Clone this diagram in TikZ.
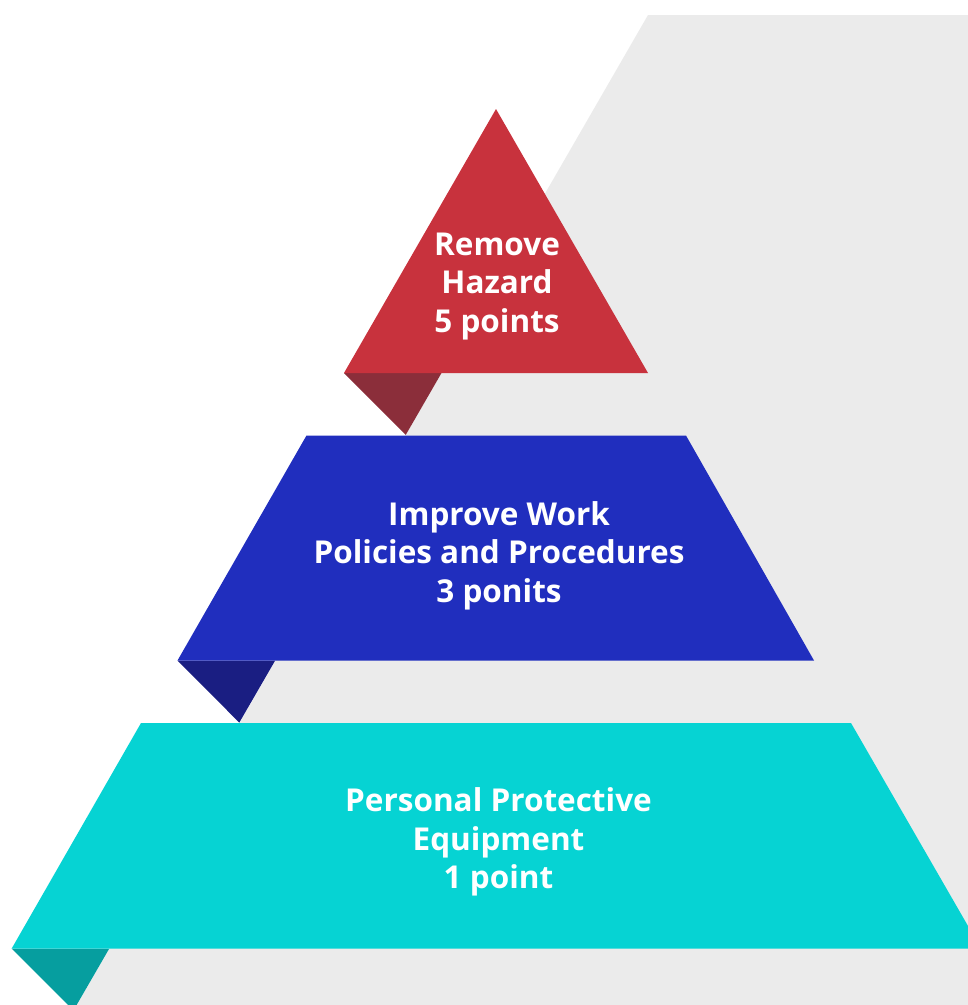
\documentclass[tikz,border=0pt]{standalone}
\usepackage{fontspec}
\setmainfont{Open Sans}
\definecolor{bggray}{HTML}{EBEBEB}
\definecolor{topred}{HTML}{C8323D}
\definecolor{foldred}{HTML}{8B2E3A}
\definecolor{midblue}{HTML}{202EBE}
\definecolor{foldblue}{HTML}{1A1E82}
\definecolor{lowcyan}{HTML}{06D3D3}
\definecolor{foldcyan}{HTML}{069E9F}
\tikzset{
  lbl/.style={text=white, align=center, inner sep=0pt, anchor=base,
    font=\bfseries\fontsize{31.5}{38.5}\selectfont}
}
\begin{document}
\begin{tikzpicture}[x=1pt,y=-1pt]
\useasboundingbox (0,0) rectangle (968,1005);
\begin{scope}
\clip (0,0) rectangle (968,1005);
% background band
\fill[bggray] (648,15) -- (990,15) -- (990,1010) -- (74,1010) -- cycle;
% folds
\fill[foldred] (344,373) -- (441.5,373) -- (405.8,434.8) -- cycle;
\fill[foldblue] (177.5,660.5) -- (275.2,660.5) -- (239.3,722.6) -- cycle;
\fill[foldcyan] (11.7,948.5) -- (109.3,948.5) -- (73.5,1010.4) -- cycle;
% tiers
\fill[topred] (496,109) -- (648,373) -- (344,373) -- cycle;
\fill[midblue] (306.5,435.5) -- (686,435.5) -- (814,660.5) -- (177.5,660.5) -- cycle;
\fill[lowcyan] (141,723) -- (851,723) -- (981,948.5) -- (11.7,948.5) -- cycle;
\end{scope}
\node[lbl] (top) at (497,332) {Remove\\Hazard\\5 points};
\node[lbl] (mid) at (499,602) {Improve Work\\Policies and Procedures\\3 ponits};
\node[lbl] (low) at (498.5,888.5) {Personal Protective\\Equipment\\1 point};
\end{tikzpicture}
\end{document}
